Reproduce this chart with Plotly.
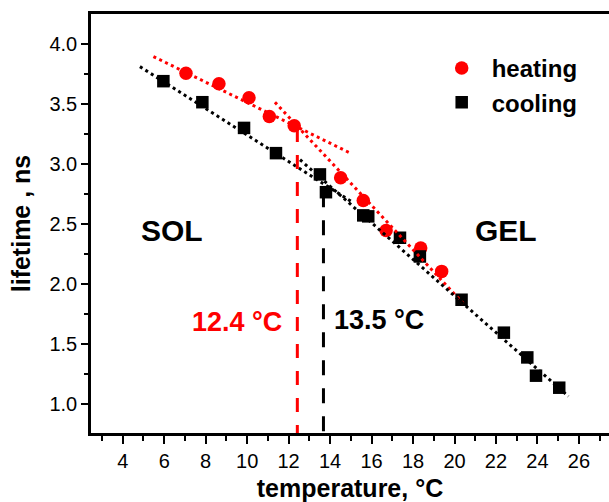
import plotly.graph_objects as go

# ---- data ----
heat_x = [7.05, 8.64, 10.09, 11.07, 12.27, 14.51, 15.60, 16.70, 18.37, 19.38]
heat_y = [3.755, 3.667, 3.551, 3.395, 3.318, 2.885, 2.696, 2.447, 2.300, 2.106]

cool_x = [5.96, 7.84, 9.85, 11.39, 13.51, 13.80, 15.60, 15.84, 17.37, 18.33,
          20.34, 22.38, 23.51, 23.93, 25.05]
cool_y = [3.689, 3.514, 3.300, 3.090, 2.913, 2.765, 2.572, 2.564, 2.386, 2.230,
          1.870, 1.596, 1.390, 1.238, 1.138]

# linear fit segments (x endpoints, y endpoints)
heat_fit1_x = [5.48, 15.04]
heat_fit1_y = [3.894, 3.085]
heat_fit2_x = [11.34, 20.42]
heat_fit2_y = [3.514, 1.840]
cool_fit1_x = [4.83, 15.00]
cool_fit1_y = [3.810, 2.690]
cool_fit2_x = [12.55, 25.49]
cool_fit2_y = [3.035, 1.066]

# transition temperatures (vertical markers)
heat_tc_x = [12.42, 12.42]
heat_tc_y = [3.30, 0.761]
cool_tc_x = [13.68, 13.68]
cool_tc_y = [2.765, 0.761]

x_ticks = [4, 6, 8, 10, 12, 14, 16, 18, 20, 22, 24, 26]
y_ticks = [1.0, 1.5, 2.0, 2.5, 3.0, 3.5, 4.0]

FONT = "Liberation Sans, Arial, sans-serif"
RED = "#ff0000"
BLACK = "#000000"

fig = go.Figure()

fig.add_trace(go.Scatter(x=heat_x, y=heat_y, mode="markers", name="heating",
                         marker=dict(symbol="circle", size=13.5, color=RED, line=dict(width=0))))
fig.add_trace(go.Scatter(x=cool_x, y=cool_y, mode="markers", name="cooling",
                         marker=dict(symbol="square", size=12.5, color=BLACK, line=dict(width=0))))

for fx, fy, col in [(heat_fit1_x, heat_fit1_y, RED), (heat_fit2_x, heat_fit2_y, RED),
                    (cool_fit1_x, cool_fit1_y, BLACK), (cool_fit2_x, cool_fit2_y, BLACK)]:
    fig.add_trace(go.Scatter(x=fx, y=fy, mode="lines", showlegend=False, hoverinfo="skip",
                             line=dict(color=col, width=3, dash="3px,3.5px")))

fig.add_trace(go.Scatter(x=heat_tc_x, y=heat_tc_y, mode="lines", showlegend=False,
                         line=dict(color=RED, width=3, dash="14px,13px")))
fig.add_trace(go.Scatter(x=cool_tc_x, y=cool_tc_y, mode="lines", showlegend=False,
                         line=dict(color=BLACK, width=3, dash="15px,13px")))

annos = [
    dict(x=6.36, y=2.447, text="SOL", font=dict(size=30, color=BLACK, weight="bold")),
    dict(x=22.48, y=2.447, text="GEL", font=dict(size=30, color=BLACK, weight="bold")),
    dict(x=9.5, y=1.684, text="12.4 °C", font=dict(size=27, color=RED, weight="bold")),
    dict(x=16.37, y=1.70, text="13.5 °C", font=dict(size=27, color=BLACK, weight="bold")),
]
for a in annos:
    a.update(xref="x", yref="y", showarrow=False, xanchor="center", yanchor="middle")
    a["font"]["family"] = FONT
    fig.add_annotation(**a)

fig.update_layout(
    width=609, height=502,
    margin=dict(l=91, r=0, t=13.5, b=69.3, pad=0),
    paper_bgcolor="white", plot_bgcolor="white",
    font=dict(family=FONT, color=BLACK),
    showlegend=True,
    legend=dict(x=(431.7 - 91) / 518, y=(432.7 - 45.5) / 419.2, xanchor="left", yanchor="top",
                itemwidth=50,
                bgcolor="rgba(0,0,0,0)", borderwidth=0,
                font=dict(family=FONT, size=24, color=BLACK, weight="bold")),
    xaxis=dict(range=[2.47, 27.45], tickmode="array", tickvals=x_ticks,
               ticktext=[str(v) for v in x_ticks],
               showgrid=False, zeroline=False, showline=True, linecolor=BLACK, linewidth=2.5,
               mirror=True, ticks="outside", ticklen=8, tickwidth=2, tickcolor=BLACK,
               tickfont=dict(family=FONT, size=20, color=BLACK),
               minor=dict(dtick=1, tick0=3, ticks="outside", ticklen=5, tickwidth=2, tickcolor=BLACK),
               title=dict(text="temperature, °C", standoff=10,
                          font=dict(family=FONT, size=25, color=BLACK, weight="bold"))),
    yaxis=dict(range=[0.761, 4.248], tickmode="array", tickvals=y_ticks,
               ticktext=[f"{v:.1f}" for v in y_ticks],
               showgrid=False, zeroline=False, showline=True, linecolor=BLACK, linewidth=2.5,
               mirror=False, ticks="outside", ticklen=7, tickwidth=2, tickcolor=BLACK,
               tickfont=dict(family=FONT, size=20, color=BLACK),
               minor=dict(dtick=0.25, tick0=0.75, ticks="outside", ticklen=4, tickwidth=2, tickcolor=BLACK),
               title=dict(text="lifetime , ns", standoff=12,
                          font=dict(family=FONT, size=25, color=BLACK, weight="bold"))),
)

fig.write_html("out.html")
